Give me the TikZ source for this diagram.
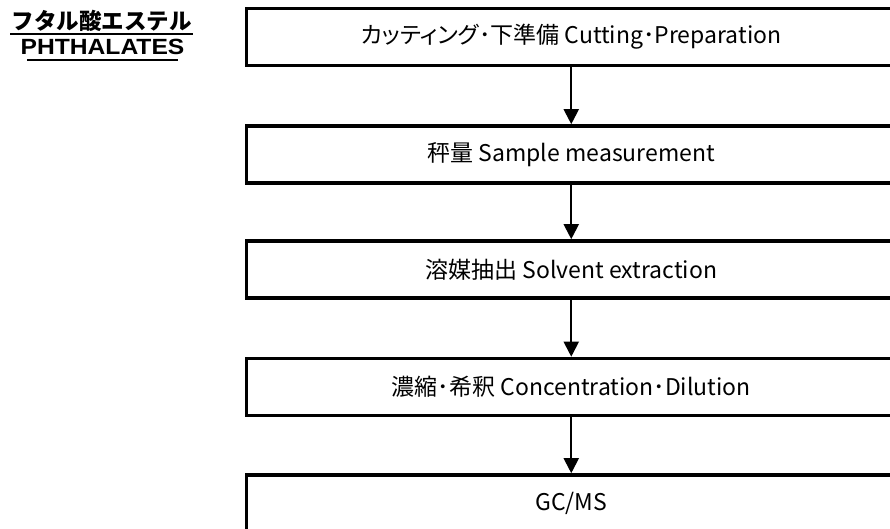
\documentclass[tikz,border=0pt]{standalone}
\usepackage{fontspec}
\usepackage{graphicx}
\setmainfont[RawFeature=+palt]{Noto Sans CJK JP}
\newfontfamily\jptitle{Noto Sans CJK JP}
\newfontfamily\latinbold{Liberation Sans}
\usetikzlibrary{arrows.meta}
\tikzset{
  stepbox/.style={draw=black, line width=3.6pt, minimum width=649.5pt, minimum height=57pt, inner sep=0pt, font=\fontsize{23}{25}\selectfont},
  flow/.style={line width=2pt, -{Triangle[width=15pt,length=15pt]}},
  uline/.style={line width=2pt}
}
\begin{document}
\begin{tikzpicture}[x=1pt,y=1pt]
\useasboundingbox (0,0) rectangle (890,-529);
\clip (0,0) rectangle (890,-529);
\fill[white] (0,0) rectangle (890,-529);
% title
\node[font=\fontsize{22.5}{25}\selectfont\jptitle\bfseries, inner sep=0pt] (tjp) at (101.5,-21) {フタル酸エステル};
\node[font=\fontsize{22}{24}\selectfont\latinbold\bfseries, inner sep=0pt] (ten) at (102.5,-47) {\scalebox{1.12}[1]{PHTHALATES}};
\coordinate (u1a) at (10,-34.5);
\coordinate (u1b) at (193,-34.5);
\coordinate (u2a) at (27,-60.5);
\coordinate (u2b) at (178,-60.5);
\draw[uline] (u1a) -- (u1b);
\draw[uline] (u2a) -- (u2b);
% boxes
\node[stepbox] (b1) at (571.25,-37) {カッティング･下準備 Cutting･Preparation};
\node[stepbox] (b2) at (571.25,-154.5) {秤量 Sample measurement};
\node[stepbox] (b3) at (571.25,-269.5) {溶媒抽出 Solvent extraction};
\node[stepbox] (b4) at (571.25,-387) {濃縮･希釈 Concentration･Dilution};
\node[stepbox] (b5) at (571.25,-503.5) {GC/MS};
% arrows
\draw[flow] (b1) -- (b2);
\draw[flow] (b2) -- (b3);
\draw[flow] (b3) -- (b4);
\draw[flow] (b4) -- (b5);
\end{tikzpicture}
\end{document}
